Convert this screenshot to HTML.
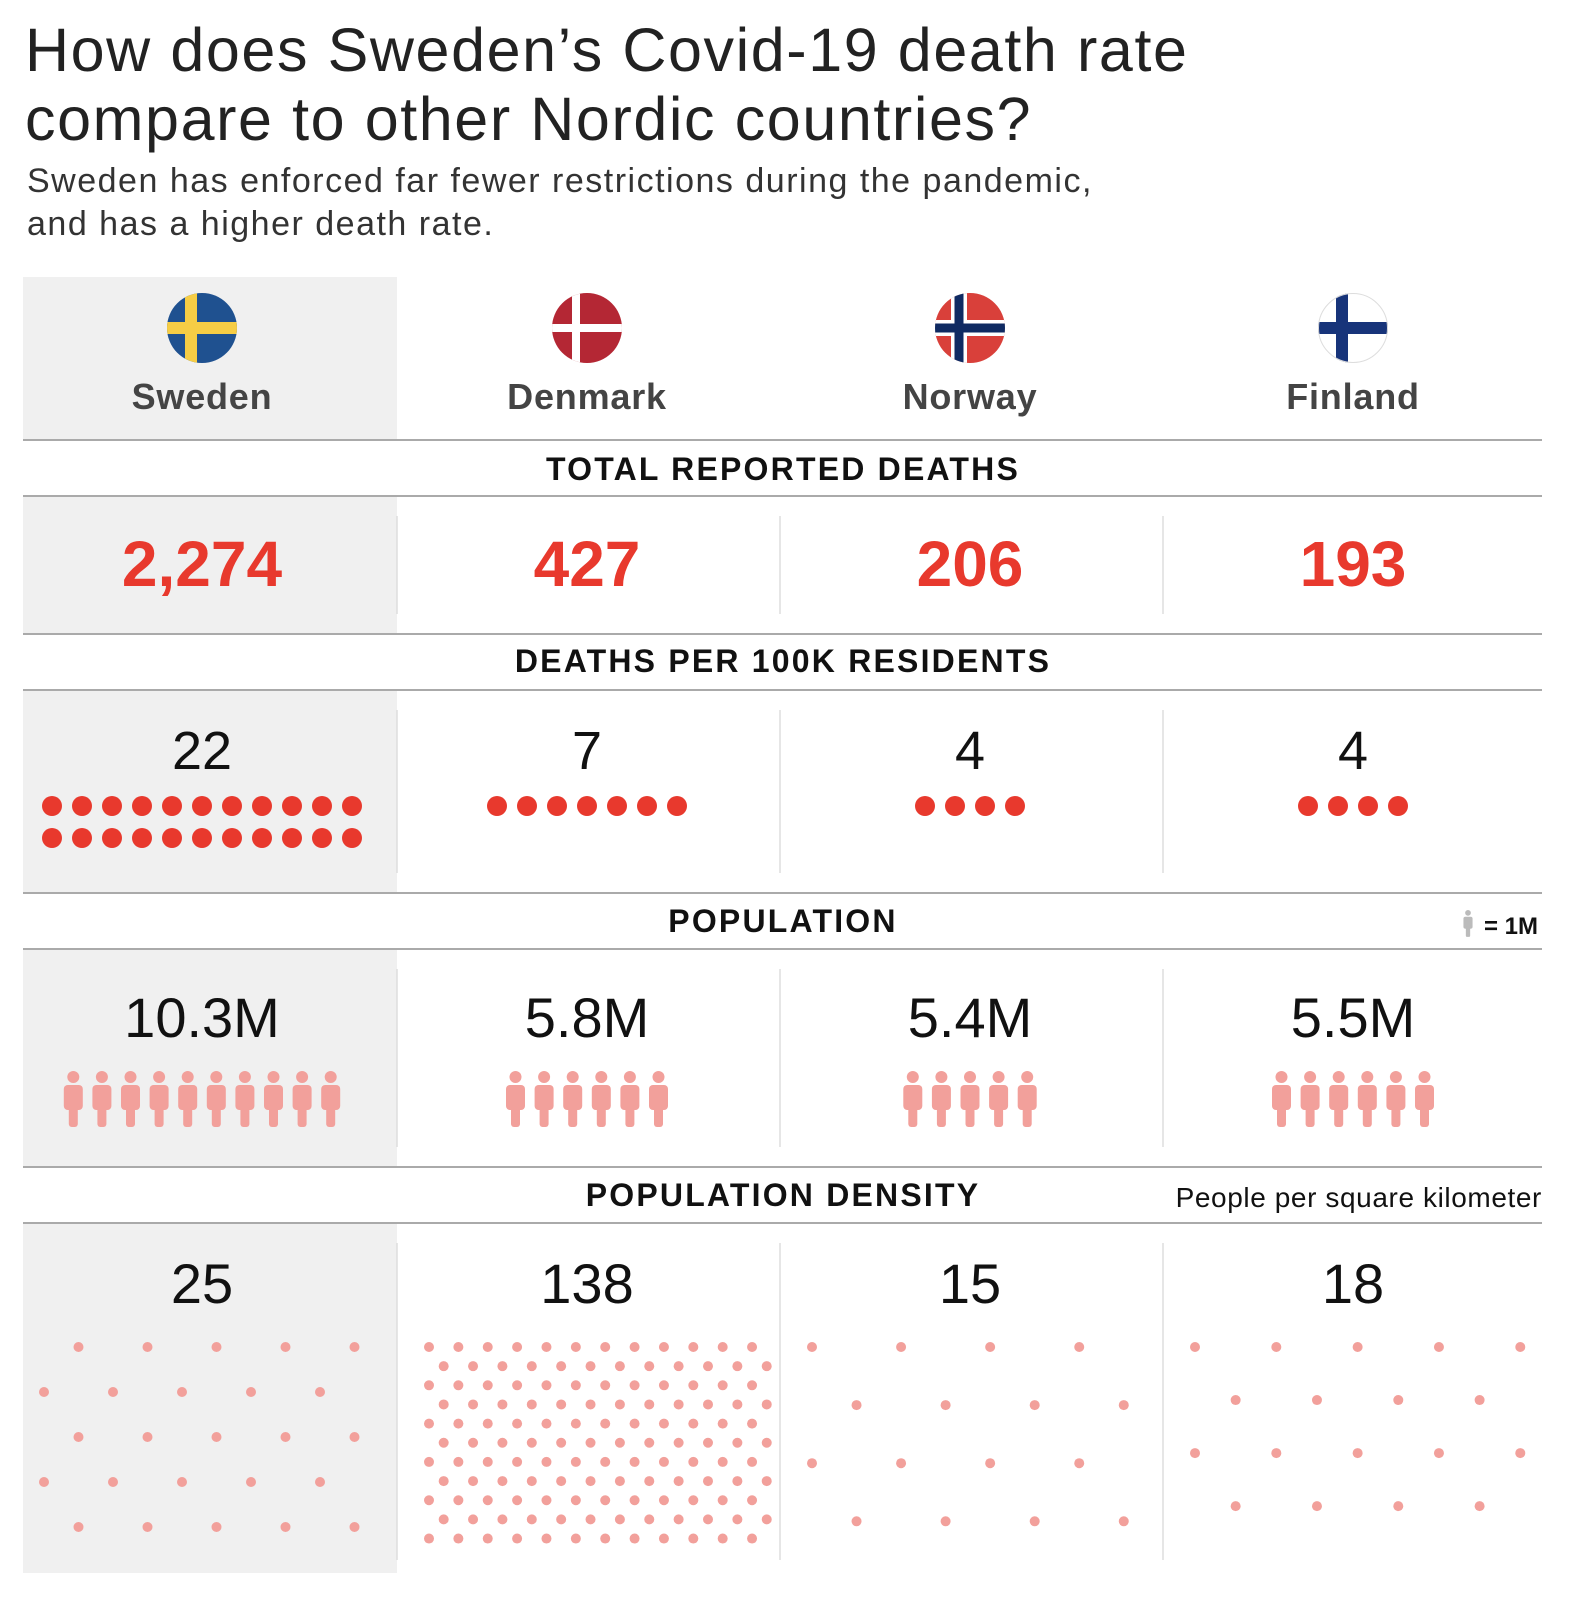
<!DOCTYPE html>
<html><head><meta charset="utf-8"><style>
body{margin:0;background:#fff;}
svg{display:block;font-family:"Liberation Sans",sans-serif;}
</style></head><body>
<svg id="chart" width="1577" height="1600" viewBox="0 0 1577 1600">
<text x="25" y="71" font-size="61" letter-spacing="1.6" fill="#222">How does Sweden’s Covid-19 death rate</text>
<text x="25" y="140" font-size="61" letter-spacing="1.6" fill="#222">compare to other Nordic countries?</text>
<text x="27" y="192" font-size="34" letter-spacing="1.5" fill="#333">Sweden has enforced far fewer restrictions during the pandemic,</text>
<text x="27" y="235" font-size="34" letter-spacing="1.5" fill="#333">and has a higher death rate.</text>
<g id="g"></g>
</svg>
<script>
const countries = ["Sweden","Denmark","Norway","Finland"];
const totalDeaths = ["2,274","427","206","193"];
const per100k = [22,7,4,4];
const population = [10.3,5.8,5.4,5.5];
const density = [25,138,15,18];

const NS="http://www.w3.org/2000/svg";
const g=document.getElementById('g');
function el(t,a,p){const e=document.createElementNS(NS,t);for(const k in a)e.setAttribute(k,a[k]);(p||g).appendChild(e);return e;}
const colL=[23,397,780,1163], colR=[397,780,1163,1542], cx=[202,587,970,1353];
const RED="#e8392d", PINK="#f2a09b";

[[277,440],[496,634],[690,893],[949,1167],[1223,1573]].forEach(([a,b])=>{
  const r=el('rect',{x:23,y:a,width:374,height:b-a,fill:"#f0f0f0"});
  
  
});
[440,496,634,690,893,949,1167,1223].forEach(y=>{
  const l=el('line',{x1:23,x2:1542,y1:y,y2:y,stroke:"#aaa","stroke-width":2});
  
  
});
[[516,614],[710,873],[969,1147],[1243,1560]].forEach(([a,b])=>{
  [397,780,1163].forEach(x=>{
    const l=el('line',{x1:x,x2:x,y1:a,y2:b,stroke:"#ddd","stroke-width":1.5});
    
    
  });
});
function hdr(t,y,name){const e=el('text',{x:783,y:y,"font-size":32,"font-weight":"bold","text-anchor":"middle",fill:"#111","letter-spacing":"2.2"});e.textContent=t;
 
 }
hdr("TOTAL REPORTED DEATHS",480,"deaths-header");
hdr("DEATHS PER 100K RESIDENTS",672,"per100k-header");
hdr("POPULATION",932,"population-header");
hdr("POPULATION DENSITY",1206,"density-header");
let n=el('text',{x:1542,y:1207,"font-size":28,"text-anchor":"end",fill:"#111","letter-spacing":"0.6"});n.textContent="People per square kilometer";


n=el('text',{x:1538,y:934,"font-size":24,"font-weight":"bold","text-anchor":"end",fill:"#111"});n.textContent="= 1M";



function person(x,y,s,col,name){
  const gg=el('g',{transform:`translate(${x},${y}) scale(${s})`,fill:col});
  
  
  el('circle',{cx:0,cy:6,r:6},gg);
  el('rect',{x:-9.5,y:14,width:19,height:25,rx:4},gg);
  el('rect',{x:-4.5,y:34,width:9,height:22,rx:3},gg);
}
person(1468,910,0.48,"#bbb","population-legend-icon");

function flag(i){
  const x=cx[i], y=328, r=35;
  const gg=el('g',{});
  
  
  const cp=el('clipPath',{id:'cp'+i},gg); el('circle',{cx:x,cy:y,r:r},cp);
  const fg=el('g',{"clip-path":`url(#cp${i})`},gg);
  const vx=x-r+24;
  if(i===0){el('rect',{x:x-r,y:y-r,width:2*r,height:2*r,fill:"#1f5190"},fg);el('rect',{x:vx-6,y:y-r,width:12,height:2*r,fill:"#f6cd45"},fg);el('rect',{x:x-r,y:y-6,width:2*r,height:12,fill:"#f6cd45"},fg);}
  if(i===1){el('rect',{x:x-r,y:y-r,width:2*r,height:2*r,fill:"#b42734"},fg);el('rect',{x:vx-4,y:y-r,width:8,height:2*r,fill:"#fff"},fg);el('rect',{x:x-r,y:y-4,width:2*r,height:8,fill:"#fff"},fg);}
  if(i===2){el('rect',{x:x-r,y:y-r,width:2*r,height:2*r,fill:"#d9403a"},fg);el('rect',{x:vx-8,y:y-r,width:16,height:2*r,fill:"#fff"},fg);el('rect',{x:x-r,y:y-8,width:2*r,height:16,fill:"#fff"},fg);el('rect',{x:vx-4.5,y:y-r,width:9,height:2*r,fill:"#0f2a62"},fg);el('rect',{x:x-r,y:y-4.5,width:2*r,height:9,fill:"#0f2a62"},fg);}
  if(i===3){el('rect',{x:x-r,y:y-r,width:2*r,height:2*r,fill:"#fff"},fg);el('rect',{x:vx-6,y:y-r,width:12,height:2*r,fill:"#17347a"},fg);el('rect',{x:x-r,y:y-6,width:2*r,height:12,fill:"#17347a"},fg);el('circle',{cx:x,cy:y,r:r-0.5,fill:"none",stroke:"#ddd"},gg);}
}

countries.forEach((c,i)=>{
  flag(i);
  let t=el('text',{x:cx[i],y:409,"font-size":36,"font-weight":"bold","text-anchor":"middle",fill:"#444","letter-spacing":"0.8"});t.textContent=c;
  
  
  t=el('text',{x:cx[i],y:586,"font-size":64,"font-weight":"bold","text-anchor":"middle",fill:RED});t.textContent=totalDeaths[i];
  
  
  t=el('text',{x:cx[i],y:769,"font-size":54,"text-anchor":"middle",fill:"#111"});t.textContent=per100k[i];
  
  
  const perRow=11;
  for(let k=0;k<per100k[i];k++){
    const row=Math.floor(k/perRow), inRow=Math.min(perRow,per100k[i]-row*perRow), col=k%perRow;
    const d=el('circle',{cx:cx[i]+(col-(inRow-1)/2)*30,cy:806+row*32,r:10,fill:RED});
    
    
  }
  t=el('text',{x:cx[i],y:1037,"font-size":56,"text-anchor":"middle",fill:"#111"});t.textContent=population[i]+"M";
  
  
  const np=Math.round(population[i]);
  for(let k=0;k<np;k++) person(cx[i]+(k-(np-1)/2)*28.6,1071,1,PINK,'population-icon');
  t=el('text',{x:cx[i],y:1303,"font-size":56,"text-anchor":"middle",fill:"#111"});t.textContent=density[i];
  
  
  const dx=345/Math.sqrt(density[i]), dy=225/Math.sqrt(density[i]);
  const shiftFirst = i===0;
  for(let r=0;;r++){
    const y=1347+r*dy; if(y>1545)break;
    const shifted = (r%2===1)!==shiftFirst;
    for(let x=colL[i]+(i===0?21:32)+(shifted?dx/2:0); x<colR[i]-12; x+=dx){
      const d=el('circle',{cx:x,cy:y,r:5,fill:PINK});
      
      
    }
  }
});
</script>
</body></html>
